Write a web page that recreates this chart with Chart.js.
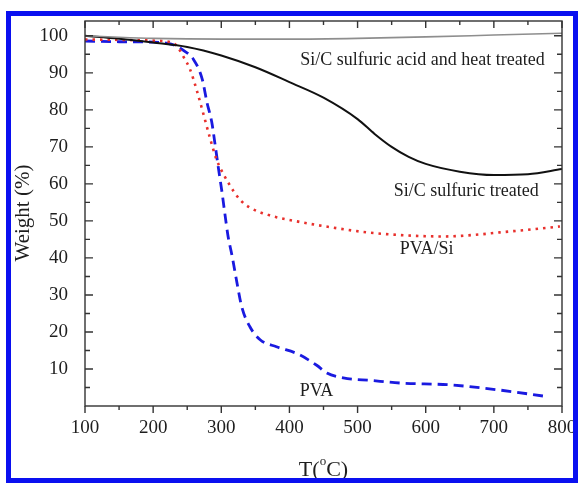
<!DOCTYPE html>
<html>
<head>
<meta charset="utf-8">
<script src="https://cdn.jsdelivr.net/npm/chart.js@4.4.0/dist/chart.umd.min.js"></script>
<style>
  html, body { margin: 0; padding: 0; background: #fff; }
  #wrap { position: relative; width: 578px; height: 484px; }
  #frameBox { position: absolute; left: 6px; top: 11px; width: 572px; height: 472px;
    box-sizing: border-box; border: 5px solid #0a10f0; pointer-events: none; }
</style>
</head>
<body>
<div id="wrap">
  <canvas id="tga" width="578" height="484"></canvas>
  <div id="frameBox"></div>
</div>
<script>
// TGA curves, T (°C) vs weight (%)
var grayT  = [100, 150, 200, 300, 400, 500, 600, 700, 800];
var grayW  = [100, 99.6, 99.3, 99.1, 99.1, 99.3, 99.7, 100.2, 100.7];

var blackT = [100, 150, 200, 250, 300, 350, 400, 450, 500, 525, 550, 575, 600, 650, 700, 750, 800];
var blackW = [100, 99.2, 98.2, 97, 94.7, 91.5, 87.5, 83.3, 77.5, 73.5, 70, 67.3, 65.4, 63.3, 62.4, 62.6, 64];

var redT = [100, 150, 200, 225, 235, 244, 254, 264, 273, 284, 293, 301, 310, 327, 342, 371, 413, 460, 514, 570, 626, 670, 709, 750, 797];
var redW = [99, 98.9, 98.7, 98.3, 97.2, 94.5, 91, 85.3, 79.4, 72, 66.6, 63.4, 60.4, 55.8, 53.6, 51.5, 49.8, 48.3, 46.9, 46.1, 45.8, 46.2, 46.9, 47.6, 48.5];

var blueT = [100, 150, 200, 220, 235, 245, 259, 272, 279, 286, 291, 296, 301, 305, 310, 316, 323, 330, 342, 357, 381, 413, 440, 455, 479, 520, 563, 636, 709, 772];
var blueW = [98.6, 98.4, 98.3, 98, 97.2, 96, 93.7, 88.3, 82, 76.7, 70.5, 64, 57.8, 52.3, 45.8, 40.4, 33.3, 26.8, 21.4, 17.9, 16, 14, 11, 8.9, 7.6, 6.9, 6.2, 5.7, 4.3, 2.7];

// labels placed on the plot (left edge T, middle W)
var noteText = ['Si/C sulfuric acid and heat treated', 'Si/C sulfuric treated', 'PVA/Si', 'PVA'];
var noteT    = [416, 553, 562, 415];
var noteW    = [93.4, 58, 42.3, 4.1];

var serif = '"Liberation Serif", "Times New Roman", serif';

function pts(xs, ys) {
	return xs.map(function(v, i){ return {x: v, y: ys[i]}; });
}

// box, inner/outer tick marks, axis titles and notes
var framePlugin = {
	id: 'framePlugin',
	afterDraw: function(chart) {
		var ctx = chart.ctx, a = chart.chartArea, x = chart.scales.x, y = chart.scales.y;
		ctx.save();
		ctx.strokeStyle = '#333';
		ctx.lineWidth = 1.4;
		ctx.strokeRect(a.left, a.top, a.right - a.left, a.bottom - a.top);
		ctx.beginPath();
		x.ticks.forEach(function(t){
			var px = x.getPixelForValue(t.value);
			var len = t.value % 100 === 0 ? 7 : 4;
			ctx.moveTo(px, a.bottom); ctx.lineTo(px, a.bottom + len);	// bottom, outward
			ctx.moveTo(px, a.top); ctx.lineTo(px, a.top + len);		// top, inward
		});
		y.ticks.forEach(function(t){
			if (t.value <= 0) return;
			var py = y.getPixelForValue(t.value);
			var len = t.value % 10 === 0 ? 8 : 5;
			ctx.moveTo(a.left, py); ctx.lineTo(a.left + len, py);
			ctx.moveTo(a.right, py); ctx.lineTo(a.right - len, py);
		});
		ctx.stroke();

		ctx.fillStyle = '#1e1e1e';
		// y title
		ctx.save();
		ctx.translate(23, 213);
		ctx.rotate(-Math.PI / 2);
		ctx.font = '21px ' + serif;
		ctx.textAlign = 'center';
		ctx.textBaseline = 'middle';
		ctx.fillText('Weight (%)', 0, 0);
		ctx.restore();

		// x title T(oC) with raised o
		ctx.textBaseline = 'alphabetic';
		ctx.textAlign = 'left';
		ctx.font = '22px ' + serif;
		var w1 = ctx.measureText('T(').width, w3 = ctx.measureText('C)').width;
		ctx.font = '13px ' + serif;
		var w2 = ctx.measureText('o').width;
		var sx = (a.left + a.right) / 2 - (w1 + w2 + w3) / 2;
		ctx.font = '22px ' + serif;
		ctx.fillText('T(', sx, 476);
		ctx.fillText('C)', sx + w1 + w2, 476);
		ctx.font = '13px ' + serif;
		ctx.fillText('o', sx + w1, 465);

		// curve labels
		ctx.font = '18px ' + serif;
		ctx.textBaseline = 'middle';
		for (var i = 0; i < noteText.length; i++) {
			ctx.fillText(noteText[i], x.getPixelForValue(noteT[i]), y.getPixelForValue(noteW[i]));
		}
		ctx.restore();
	}
};

var ctx = document.getElementById('tga').getContext('2d');
var tgaChart = new Chart(ctx, {
	type: 'line',
	data: {
		datasets: [{
			label: 'Si/C sulfuric acid and heat treated',
			data: pts(grayT, grayW),
			borderColor: '#8e8e8e',
			borderWidth: 1.6
		}, {
			label: 'Si/C sulfuric treated',
			data: pts(blackT, blackW),
			borderColor: '#111',
			borderWidth: 2
		}, {
			label: 'PVA/Si',
			data: pts(redT, redW),
			borderColor: '#e8302c',
			borderWidth: 2.6,
			borderDash: [2.5, 5]
		}, {
			label: 'PVA',
			data: pts(blueT, blueW),
			borderColor: '#1a1ae0',
			borderWidth: 2.8,
			borderDash: [10, 6]
		}]
	},
	options: {
		animation: false,
		responsive: false,
		devicePixelRatio: 1,
		elements: {
			point: { radius: 0 },
			line: { cubicInterpolationMode: 'monotone', fill: false }
		},
		layout: { padding: { left: 0, right: 16, top: 21, bottom: 0 } },
		plugins: { legend: { display: false }, tooltip: { enabled: false } },
		scales: {
			x: {
				type: 'linear',
				min: 100, max: 800,
				grid: { display: false, drawTicks: false },
				border: { display: false },
				afterFit: function(s){ s.height = 78; s.paddingLeft = 0; s.paddingRight = 0; },
				ticks: {
					stepSize: 50,
					autoSkip: false,
					maxRotation: 0,
					padding: 11,
					color: '#1e1e1e',
					font: { family: serif, size: 19 },
					callback: function(v){ return v % 100 === 0 ? String(v) : ''; }
				}
			},
			y: {
				type: 'linear',
				min: 0, max: 104,
				grid: { display: false, drawTicks: false },
				border: { display: false },
				afterFit: function(s){ s.width = 85; s.paddingTop = 0; s.paddingBottom = 0; },
				ticks: {
					stepSize: 5,
					includeBounds: false,
					autoSkip: false,
					padding: 17,
					color: '#1e1e1e',
					font: { family: serif, size: 19 },
					callback: function(v){ return (v % 10 === 0 && v > 0) ? String(v) : ''; }
				}
			}
		}
	},
	plugins: [framePlugin]
});
</script>
</body>
</html>
